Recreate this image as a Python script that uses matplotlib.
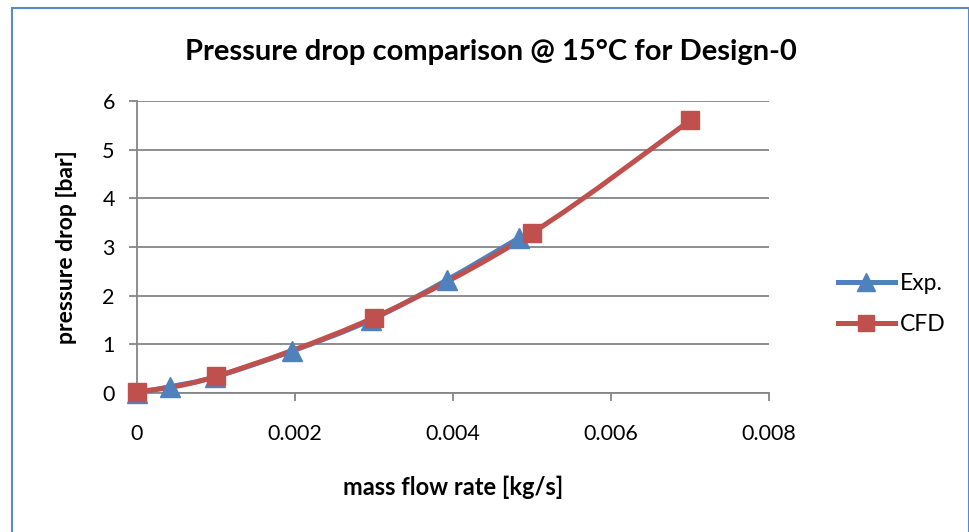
import matplotlib
matplotlib.use("Agg")
import matplotlib.pyplot as plt
import numpy as np
from matplotlib.path import Path
from matplotlib.patches import PathPatch, Rectangle
from matplotlib.lines import Line2D

plt.rcParams['font.family'] = ['Lato', 'DejaVu Sans']

# data
exp_x = [0.0, 0.00042, 0.00099, 0.00196, 0.00296, 0.00392, 0.00483]
exp_y = [0.0, 0.13, 0.33, 0.86, 1.50, 2.32, 3.18]
cfd_x = [0.0, 0.001, 0.003, 0.005, 0.007]
cfd_y = [0.02, 0.34, 1.55, 3.29, 5.60]

xticks = [0, 0.002, 0.004, 0.006, 0.008]
xticklabels = ['0', '0.002', '0.004', '0.006', '0.008']
yticks = [0, 1, 2, 3, 4, 5, 6]

blue = '#4f81bd'
red = '#c0504d'


def smooth_path(xs, ys):
    # excel-like smoothed line: cubic bezier through each point
    p = np.column_stack([xs, ys])
    n = len(p)
    verts = [p[0]]
    codes = [Path.MOVETO]
    for i in range(n - 1):
        p0 = p[i - 1] if i > 0 else p[i]
        p1 = p[i]
        p2 = p[i + 1]
        p3 = p[i + 2] if i + 2 < n else p[i + 1]
        c1 = p1 + (p2 - p0) / 6
        c2 = p2 - (p3 - p1) / 6
        verts += [c1, c2, p2]
        codes += [Path.CURVE4] * 3
    return Path(verts, codes)


fig = plt.figure(figsize=(9.7, 5.32), dpi=100)
fig.patches.append(Rectangle((12.5 / 970, -0.05), (969 - 12.5) / 970, 1 - 8 / 532 + 0.05,
                             transform=fig.transFigure, fill=False, ec='#5a8ac6', lw=1.5))

ax = fig.add_axes([137 / 970, 1 - 393 / 532, (769 - 137) / 970, (393 - 101) / 532])

for xs, ys, c, m, ms in [(exp_x, exp_y, blue, '^', 15), (cfd_x, cfd_y, red, 's', 13)]:
    ax.add_patch(PathPatch(smooth_path(xs, ys), fill=False, ec=c, lw=3.6,
                           capstyle='round', joinstyle='round', zorder=3))
    ax.plot(xs, ys, ls='none', marker=m, ms=ms, color=c, mec=c, zorder=4, clip_on=False)

ax.set_xlim(0, 0.008)
ax.set_ylim(0, 6)
ax.set_xticks(xticks)
ax.set_xticklabels(xticklabels)
ax.set_yticks(yticks)
ax.grid(axis='y', color='#868686', lw=1.3)
ax.set_axisbelow(True)
for s in ['top', 'right']:
    ax.spines[s].set_visible(False)
for s in ['left', 'bottom']:
    ax.spines[s].set_color('#868686')
    ax.spines[s].set_linewidth(1.3)
ax.tick_params(colors='#868686', labelcolor='black', labelsize=15.5, length=6, width=1.3)
ax.tick_params(axis='x', pad=16)
ax.tick_params(axis='y', pad=10)

ax.set_xlabel('mass flow rate [kg/s]', fontsize=17, fontweight='bold', labelpad=23)
ax.set_ylabel('pressure drop [bar]', fontsize=16.5, fontweight='bold', labelpad=18)
fig.text(491 / 970, 1 - 52 / 532, 'Pressure drop comparison @ 15°C for Design-0',
         ha='center', va='center', fontsize=21, fontweight='bold')

handles = [Line2D([], [], color=blue, lw=3.6, marker='^', ms=13),
           Line2D([], [], color=red, lw=3.6, marker='s', ms=11)]
fig.legend(handles, ['Exp.', 'CFD'], loc='center left', bbox_to_anchor=(817 / 970, 1 - 304 / 532),
           frameon=False, fontsize=16.5, handlelength=2.5, handletextpad=0.2, labelspacing=0.9)

fig.savefig('out.png', dpi=100)
